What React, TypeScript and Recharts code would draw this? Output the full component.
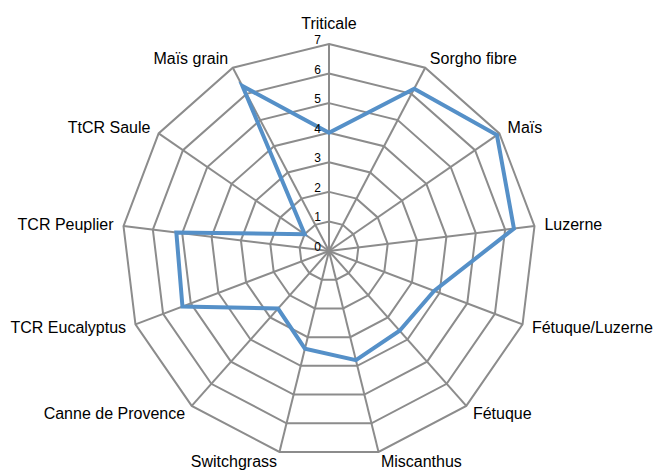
import React from "react";
import {
  RadarChart,
  Radar,
  PolarGrid,
  PolarAngleAxis,
  PolarRadiusAxis,
} from "recharts";

const categories = [
  "Triticale",
  "Sorgho fibre",
  "Maïs",
  "Luzerne",
  "Fétuque/Luzerne",
  "Fétuque",
  "Miscanthus",
  "Switchgrass",
  "Canne de Provence",
  "TCR Eucalyptus",
  "TCR Peuplier",
  "TtCR Saule",
  "Maïs grain",
];
const values = [4, 6.2, 6.9, 6.3, 3.8, 3.6, 3.8, 3.4, 2.6, 5.3, 5.2, 1.0, 6.3];
const radialTicks = [0, 1, 2, 3, 4, 5, 6, 7];

const data = categories.map((name, i) => ({ name, value: values[i] }));

const CX = 329;
const CY = 251;
const R = 207;
const FONT = "'Liberation Sans', Arial, sans-serif";

// label placed just outside the outer polygon vertex
const AngleTick = (props: any) => {
  const { x, y, payload } = props;
  const dx = x - CX;
  const dy = y - CY;
  const d = Math.sqrt(dx * dx + dy * dy) || 1;
  const ux = dx / d;
  const uy = dy / d;
  const vx = CX + ux * R;
  const vy = CY + uy * R;
  let anchor: "start" | "end" | "middle" = "middle";
  if (ux > 0.05) anchor = "start";
  else if (ux < -0.05) anchor = "end";
  const tx = vx + ux * 10;
  const ty = anchor === "middle" ? vy + uy * 21 : vy + uy * 10;
  return (
    <text
      x={tx}
      y={ty}
      textAnchor={anchor}
      dominantBaseline="central"
      fontSize={16}
      fontFamily={FONT}
      fill="#000"
    >
      {payload.value}
    </text>
  );
};

const RadiusTick = (props: any) => {
  const { x, y, payload } = props;
  return (
    <text
      x={x - 8}
      y={y - 4}
      textAnchor="end"
      dominantBaseline="central"
      fontSize={12}
      fontFamily={FONT}
      fill="#000"
    >
      {payload.value}
    </text>
  );
};

export default function App() {
  return (
    <div style={{ position: "absolute", left: 0, top: 0, background: "#fff" }}>
      <RadarChart
        width={657}
        height={470}
        data={data}
        cx={CX}
        cy={CY}
        outerRadius={R}
        startAngle={90}
        endAngle={-270}
      >
        <PolarGrid gridType="polygon" stroke="#8c8c8c" strokeWidth={2} />
        <PolarAngleAxis
          dataKey="name"
          tick={<AngleTick />}
          tickLine={false}
          axisLine={false}
        />
        <PolarRadiusAxis
          angle={90}
          domain={[0, 7]}
          ticks={radialTicks as any}
          tickCount={8}
          tick={<RadiusTick />}
          axisLine={false}
          tickLine={false}
        />
        <Radar
          dataKey="value"
          stroke="#5590c8"
          strokeWidth={4}
          fill="none"
          fillOpacity={0}
          dot={false}
          isAnimationActive={false}
        />
      </RadarChart>
    </div>
  );
}
